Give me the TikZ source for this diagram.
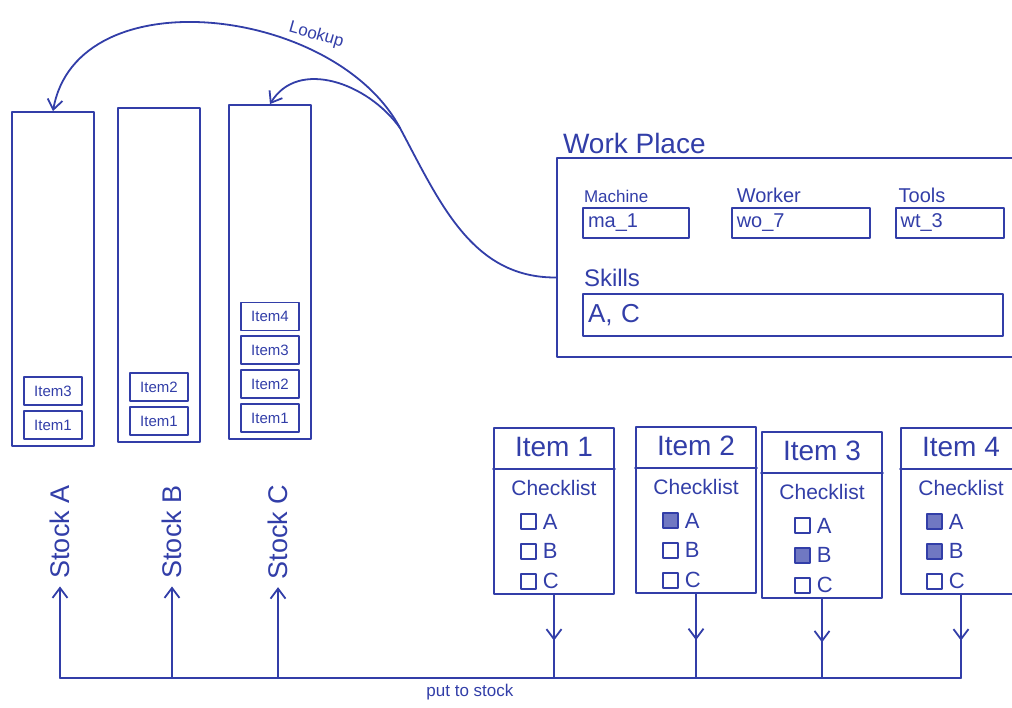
\documentclass[tikz,border=0pt]{standalone}
\usepackage{fontspec}
\setmainfont{Liberation Sans}
\usepackage{tikz}
\usetikzlibrary{arrows.meta,positioning,decorations.markings}
\definecolor{ink}{RGB}{50,62,168}

\begin{document}
\begin{tikzpicture}[
  x=1pt, y=-1pt,
  color=ink, line width=1.8pt, line join=round, line cap=round,
  font=\fontsize{20}{22}\selectfont,
  every node/.style={inner sep=2pt},
  stock/.style={draw, minimum width=82pt, minimum height=334pt},
  slot/.style={draw, minimum width=58pt, minimum height=28pt, font=\fontsize{15}{16}\selectfont},
  card/.style={draw, minimum width=120pt, minimum height=166pt},
  head/.style={font=\fontsize{28}{30}\selectfont},
  chk/.style={draw, minimum size=15pt, inner sep=0pt, anchor=north west,
    label={[label distance=3pt, font=\fontsize{22}{24}\selectfont]right:#1}},
  done/.style={fill=ink!70},
  field/.style={draw, text width=#1, align=left, minimum height=30pt, inner sep=5pt},
  note/.style={font=\fontsize{17}{18}\selectfont, inner sep=1pt},
  arr/.style={-{Straight Barb[length=10pt, width=15pt]}},
  mid/.style={postaction={decorate}, decoration={markings,
    mark=at position 0.55 with {\arrow{Straight Barb[length=10pt, width=15pt]}}}}
]
\useasboundingbox (0,0) rectangle (1012,708);
\clip (0,0) rectangle (1012,708);

% stocks
\node[stock] (sA) at (53,279) {};
\node[slot, above=7pt of sA.south] (a1) {Item1};
\node[slot, above=4pt of a1] (a3) {Item3};

\node[stock] (sB) at (159,275) {};
\node[slot, above=7pt of sB.south] (b1) {Item1};
\node[slot, above=4pt of b1] (b2) {Item2};

\node[stock] (sC) at (270,272) {};
\node[slot, above=7pt of sC.south] (k1) {Item1};
\node[slot, above=4pt of k1] (k2) {Item2};
\node[slot, above=4pt of k2] (k3) {Item3};
\node[slot, above=4pt of k3] (k4) {Item4};

\node[rotate=90, font=\fontsize{27}{28}\selectfont] (lA) at (60,532) {Stock A};
\node[rotate=90, font=\fontsize{27}{28}\selectfont] (lB) at (172,532) {Stock B};
\node[rotate=90, font=\fontsize{27}{28}\selectfont] (lC) at (278,532) {Stock C};

% work place
\node[draw, minimum width=480pt, minimum height=199pt] (wp) at (797,257.5) {};
\node[head, above right=0pt and 4pt of wp.north west] (wpt) {Work Place};
\node[field=96pt, below right=50pt and 26pt of wp.north west] (ma) {ma\_1};
\node[field=128pt, right=41pt of ma] (wo) {wo\_7};
\node[field=98pt, right=24pt of wo] (wt) {wt\_3};
\node[field=410pt, minimum height=42pt, below right=54pt and 0pt of ma.south west,
  font=\fontsize{26}{28}\selectfont] (sk) {A, C};
\node[note, above right=3pt and 0pt of ma.north west] {Machine};
\node[note, font=\fontsize{20}{22}\selectfont, above right=3pt and 4pt of wo.north west] {Worker};
\node[note, font=\fontsize{20}{22}\selectfont, above right=3pt and 2pt of wt.north west] {Tools};
\node[note, font=\fontsize{24}{26}\selectfont, above right=4pt and 0pt of sk.north west] {Skills};

\coordinate (fork) at (400,128);
\draw ([yshift=-20pt]wp.west) .. controls (472,278) and (440,203) .. (fork);
\draw[arr] (fork) .. controls (335,6) and (77,-24) ..
  node[note, pos=0.27, above=6pt, rotate=-16] {Lookup} (sA.north);
\draw[arr] (fork) .. controls (368,83) and (298,58) .. (sC.north);

% items
\node[card] (c1) at (554,511) {};
\node[head, below=7pt of c1.north] (t1) {Item 1};
\draw ([yshift=-42pt]c1.north west) -- ([yshift=-42pt]c1.north east);
\node[font=\fontsize{21}{22}\selectfont, below=50pt of c1.north] (h1) {Checklist};
\node[chk=A, below right=86pt and 27pt of c1.north west] (c1a) {};
\node[chk=B, below=13pt of c1a] (c1b) {};
\node[chk=C, below=13pt of c1b] (c1c) {};

\node[card] (c2) at (696,510) {};
\node[head, below=7pt of c2.north] (t2) {Item 2};
\draw ([yshift=-42pt]c2.north west) -- ([yshift=-42pt]c2.north east);
\node[font=\fontsize{21}{22}\selectfont, below=50pt of c2.north] (h2) {Checklist};
\node[chk=A, done, below right=86pt and 27pt of c2.north west] (c2a) {};
\node[chk=B, below=13pt of c2a] (c2b) {};
\node[chk=C, below=13pt of c2b] (c2c) {};

\node[card] (c3) at (822,515) {};
\node[head, below=7pt of c3.north] (t3) {Item 3};
\draw ([yshift=-42pt]c3.north west) -- ([yshift=-42pt]c3.north east);
\node[font=\fontsize{21}{22}\selectfont, below=50pt of c3.north] (h3) {Checklist};
\node[chk=A, below right=86pt and 33pt of c3.north west] (c3a) {};
\node[chk=B, done, below=13pt of c3a] (c3b) {};
\node[chk=C, below=13pt of c3b] (c3c) {};

\node[card] (c4) at (961,511) {};
\node[head, below=7pt of c4.north] (t4) {Item 4};
\draw ([yshift=-42pt]c4.north west) -- ([yshift=-42pt]c4.north east);
\node[font=\fontsize{21}{22}\selectfont, below=50pt of c4.north] (h4) {Checklist};
\node[chk=A, done, below right=86pt and 26pt of c4.north west] (c4a) {};
\node[chk=B, done, below=13pt of c4a] (c4b) {};
\node[chk=C, below=13pt of c4b] (c4c) {};

% put to stock
\coordinate (bA) at (lA |- 0,678);
\coordinate (bB) at (lB |- bA);
\coordinate (bC) at (lC |- bA);
\coordinate (b1) at (c1.south |- bA);
\coordinate (b2) at (c2.south |- bA);
\coordinate (b3) at (c3.south |- bA);
\coordinate (b4) at (c4.south |- bA);

\draw (bA) -- node[note, pos=0.455, below=4pt] {put to stock} (b4);
\draw[arr, shorten >=5pt] (bA) -- (lA);
\draw[arr, shorten >=5pt] (bB) -- (lB);
\draw[arr, shorten >=5pt] (bC) -- (lC);
\draw[mid] (c1) -- (b1);
\draw[mid] (c2) -- (b2);
\draw[mid] (c3) -- (b3);
\draw[mid] (c4) -- (b4);
\end{tikzpicture}
\end{document}
